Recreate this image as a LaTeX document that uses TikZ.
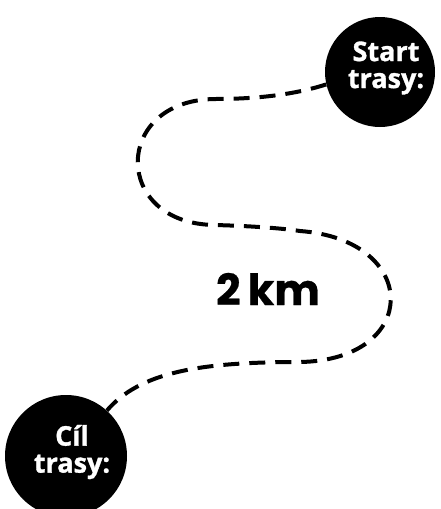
\documentclass[tikz,border=0pt]{standalone}
\usepackage{fontspec}
\setmainfont{Poppins}
\newfontfamily\osans{Open Sans}[BoldFeatures={FakeBold=1.2}]
\newfontfamily\popk{Poppins}[BoldFeatures={FakeBold=0.6}]
\begin{document}
\begin{tikzpicture}[x=1pt,y=-1pt,
  dot/.style={circle,fill=black,inner sep=0pt},
  lbl/.style={text=white,align=center,font=\osans\bfseries\fontsize{27}{27}\selectfont},
  route/.style={line width=4pt,dash pattern=on 16pt off 10pt}]
\useasboundingbox (0,0) rectangle (441,509);
\node[dot,minimum size=110pt] (s) at (380,72) {};
\node[lbl] (st) at (386,68) {Start\\trasy:};
\node[dot,minimum size=122pt] (c) at (66,456) {};
\node[lbl] (ct) at (72,452) {Cíl\\trasy:};
\node[font=\popk\bfseries\fontsize{43}{50}\selectfont] (km) at (268,289) {2\,km};
\draw[route] (s.193) .. controls (290,96) and (250,99) .. (215,99)
  .. controls (112,100) and (112,224) .. (215,225)
  .. controls (250,226) and (280,228) .. (300,231)
  .. controls (421,240) and (421,360) .. (300,362)
  .. controls (200,362) and (140,372) .. (c.48);
\end{tikzpicture}
\end{document}
